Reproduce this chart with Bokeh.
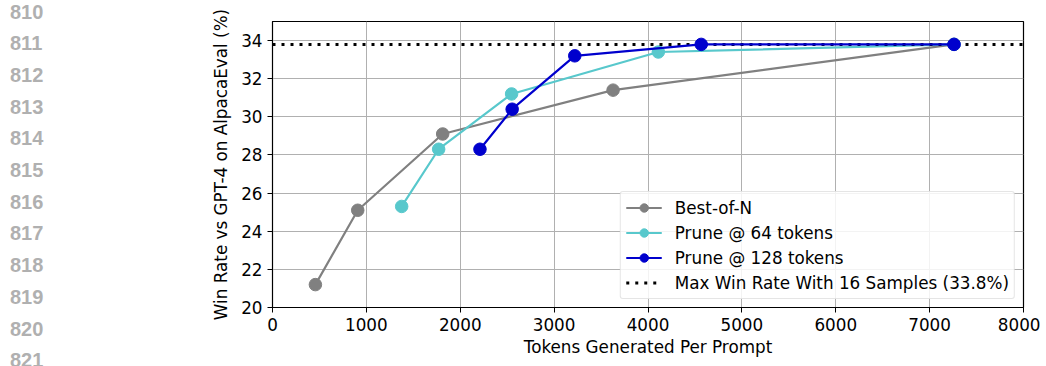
from bokeh.plotting import figure
from bokeh.layouts import row
from bokeh.models import Legend, LegendItem, FixedTicker, Range1d, Div
from bokeh.embed import file_html
from bokeh.resources import INLINE

# ---- data ----
bon_x = [457, 908, 1813, 3628, 7260]
bon_y = [21.2, 25.1, 29.1, 31.4, 33.8]
p64_x = [1376, 1770, 2547, 4110, 7260]
p64_y = [25.3, 28.3, 31.2, 33.4, 33.8]
p128_x = [2210, 2553, 3220, 4567, 7260]
p128_y = [28.3, 30.4, 33.2, 33.8, 33.8]
max_rate = 33.8
x_ticks = [0, 1000, 2000, 3000, 4000, 5000, 6000, 7000, 8000]
y_ticks = [20, 22, 24, 26, 28, 30, 32, 34]
line_numbers = ["810", "811", "812", "813", "814", "815", "816", "817", "818", "819", "820", "821"]

FONT = "DejaVu Sans"
FS = "16.8px"
H = 366
LEFT_W = 60

# ---- left margin with line numbers (HTML text) ----
items = "".join(
    f'<div style="position:absolute;left:10px;top:{11.5 + 31.7 * i - 12:.1f}px;'
    f'height:24px;line-height:24px;">{t}</div>'
    for i, t in enumerate(line_numbers)
)
ln_html = (
    f'<div style="position:relative;width:{LEFT_W}px;height:{H}px;overflow:hidden;'
    "font-family:'Liberation Sans',Arial,sans-serif;font-weight:bold;font-size:20px;"
    f'color:#b0b0b0;">{items}</div>'
)
ln = Div(text=ln_html, width=LEFT_W, height=H, margin=0)

# ---- main chart ----
p = figure(width=980, height=H, output_backend="svg", toolbar_location=None,
           x_range=Range1d(0, 8000), y_range=Range1d(20, 35),
           min_border_left=272 - LEFT_W, min_border_right=17, min_border_top=21,
           min_border_bottom=H - 307)

p.outline_line_color = "black"
p.outline_line_width = 1.2

for ax in (p.xaxis[0], p.yaxis[0]):
    ax.major_label_text_font = FONT
    ax.major_label_text_font_size = FS
    ax.major_label_text_color = "black"
    ax.axis_label_text_font = FONT
    ax.axis_label_text_font_size = FS
    ax.axis_label_text_font_style = "normal"
    ax.axis_label_text_color = "black"
    ax.axis_line_color = "black"
    ax.major_tick_line_color = "black"
    ax.major_tick_out = 5
    ax.major_tick_in = 0
    ax.minor_tick_line_color = None

p.xaxis.ticker = FixedTicker(ticks=x_ticks)
p.yaxis.ticker = FixedTicker(ticks=y_ticks)
p.xaxis.axis_label = "Tokens Generated Per Prompt"
p.yaxis.axis_label = "Win Rate vs GPT-4 on AlpacaEval (%)"
p.xaxis.major_label_standoff = 5
p.xaxis.axis_label_standoff = 3
p.yaxis.major_label_standoff = 5
p.yaxis.axis_label_standoff = 7

p.xgrid.ticker = FixedTicker(ticks=x_ticks)
p.ygrid.ticker = FixedTicker(ticks=y_ticks)
p.grid.grid_line_color = "#b0b0b0"
p.grid.grid_line_width = 1

GRAY = "#808080"
CYAN = "#58c8cc"
BLUE = "#0000cd"

l1 = p.line(bon_x, bon_y, line_color=GRAY, line_width=2.2)
c1 = p.scatter(bon_x, bon_y, size=12.5, fill_color=GRAY, line_color=GRAY)
l2 = p.line(p64_x, p64_y, line_color=CYAN, line_width=2.2)
c2 = p.scatter(p64_x, p64_y, size=12.5, fill_color=CYAN, line_color=CYAN)
l4 = p.line([0, 8000], [max_rate, max_rate], line_color="black", line_width=3, line_dash="3 6")
l3 = p.line(p128_x, p128_y, line_color=BLUE, line_width=2.2)
c3 = p.scatter(p128_x, p128_y, size=12.5, fill_color=BLUE, line_color=BLUE)

legend = Legend(items=[
    LegendItem(label="Best-of-N", renderers=[l1, c1]),
    LegendItem(label="Prune @ 64 tokens", renderers=[l2, c2]),
    LegendItem(label="Prune @ 128 tokens", renderers=[l3, c3]),
    LegendItem(label=f"Max Win Rate With 16 Samples ({max_rate}%)", renderers=[l4]),
], location="bottom_right")
legend.label_text_font = FONT
legend.label_text_font_size = FS
legend.label_text_color = "black"
legend.border_line_color = "#cccccc"
legend.border_line_width = 1
legend.border_radius = 3
legend.background_fill_alpha = 0.85
legend.margin = 8
legend.padding = 5
legend.spacing = 4
legend.glyph_width = 36
legend.glyph_height = 21
legend.label_height = 21
legend.label_standoff = 13
p.add_layout(legend)

layout = row(ln, p, spacing=0)
open("out.html", "w").write(file_html(layout, INLINE))
